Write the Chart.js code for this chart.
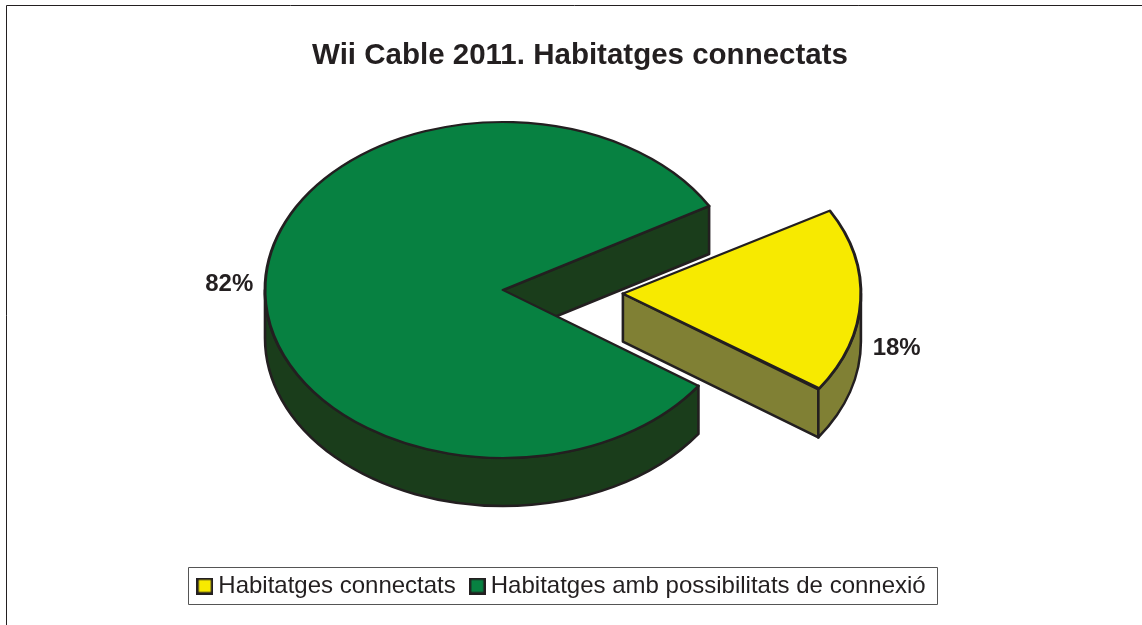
<!DOCTYPE html>
<html>
<head>
<meta charset="utf-8">
<style>
html,body{margin:0;padding:0;background:#fff;}
#wrap{position:relative;width:1142px;height:625px;}
canvas{display:block;}
</style>
<script src="https://cdn.jsdelivr.net/npm/chart.js@4/dist/chart.umd.min.js"></script>
</head>
<body>
<div id="wrap"><canvas id="c" width="1142" height="625"></canvas></div>
<script>
const titleText = 'Wii Cable 2011. Habitatges connectats';
const categories = ['Habitatges connectats', 'Habitatges amb possibilitats de connexió'];
const values = [18, 82];
const percentLabels = ['18%', '82%'];
const topColors = ['#f7ea00', '#078141'];
const wallColors = ['#808034', '#1a3d1b'];
const explode = [480, 0];

const INK = '#231f20';
const CX = 503, CY = 290, RADIUS = 238, SQUASH = 168 / 238, DEPTH = 48;

function tilt(ctx) {
  ctx.translate(0, CY);
  ctx.scale(1, SQUASH);
  ctx.translate(0, -CY);
}

function swatch(color) {
  const c = document.createElement('canvas');
  c.width = 17; c.height = 17;
  const g = c.getContext('2d');
  g.fillStyle = color;
  g.fillRect(0, 0, 17, 17);
  g.strokeStyle = INK;
  g.lineWidth = 2.5;
  g.strokeRect(1.25, 1.25, 14.5, 14.5);
  return c;
}

const pie3d = {
  id: 'pie3d',
  afterLayout(chart) {
    // place the pie, title and legend on their own centres
    const a = chart.chartArea;
    a.left = 0; a.right = CX * 2; a.top = 0; a.bottom = CY * 2;
    a.width = CX * 2; a.height = CY * 2;
    const t = chart.titleBlock;
    t.left += 15.5; t.right += 15.5;
  },
  beforeDraw(chart) {
    const ctx = chart.ctx;
    ctx.save();
    ctx.strokeStyle = INK;
    ctx.lineWidth = 1;
    ctx.beginPath();
    ctx.moveTo(6.5, 625);
    ctx.lineTo(6.5, 5.5);
    ctx.lineTo(1142, 5.5);
    ctx.stroke();
    ctx.fillStyle = '#fff';
    ctx.strokeStyle = '#555';
    ctx.lineWidth = 1;
    ctx.beginPath();
    ctx.rect(188.5, 567.5, 749, 37);
    ctx.fill();
    ctx.stroke();
    ctx.restore();
  },
  beforeDatasetsDraw(chart) {
    const ctx = chart.ctx;
    const arcs = chart.getDatasetMeta(0).data;
    const d = DEPTH / SQUASH;
    ctx.save();
    ctx.strokeStyle = INK;
    ctx.lineWidth = 2.6;
    ctx.lineJoin = 'round';
    arcs.forEach((arc, i) => {
      const s = arc.startAngle, e = arc.endAngle, r = RADIUS;
      const mid = (s + e) / 2, off = explode[i] / 4;
      // Chart.js enlarges an offset slice by this much; cancel it so top and rim coincide
      arc.outerRadius = RADIUS - off * (1 - Math.sin(Math.min(Math.PI, e - s)));
      const x = arc.x + Math.cos(mid) * off, y = arc.y + Math.sin(mid) * off;
      const paint = () => {
        ctx.fillStyle = wallColors[i];
        ctx.fill();
        ctx.stroke();
      };
      // cut face behind the trailing edge
      if (Math.cos(e) > 0) {
        ctx.save();
        tilt(ctx);
        ctx.beginPath();
        ctx.moveTo(x, y);
        ctx.lineTo(x + Math.cos(e) * r, y + Math.sin(e) * r);
        ctx.lineTo(x + Math.cos(e) * r, y + Math.sin(e) * r + d);
        ctx.lineTo(x, y + d);
        ctx.closePath();
        ctx.restore();
        paint();
      }
      // outer rim along the front half
      const a0 = Math.max(s, 0), a1 = Math.min(e, Math.PI);
      if (a1 > a0) {
        ctx.save();
        tilt(ctx);
        ctx.beginPath();
        ctx.arc(x, y, r, a0, a1);
        ctx.arc(x, y + d, r, a1, a0, true);
        ctx.closePath();
        ctx.restore();
        paint();
      }
    });
    ctx.restore();
    ctx.save();
    tilt(ctx);
  },
  afterDatasetsDraw(chart) {
    const ctx = chart.ctx;
    ctx.restore();
    const arcs = chart.getDatasetMeta(0).data;
    ctx.save();
    ctx.font = 'bold 24px "Liberation Sans", Arial, sans-serif';
    ctx.fillStyle = INK;
    ctx.textAlign = 'center';
    ctx.textBaseline = 'middle';
    arcs.forEach((arc, i) => {
      const mid = (arc.startAngle + arc.endAngle) / 2;
      const off = explode[i] / 4, rr = RADIUS + 36;
      const x = arc.x + Math.cos(mid) * (off + rr);
      const y = CY + 2 + Math.sin(mid) * (off + rr) * SQUASH + (Math.cos(mid) > 0 ? DEPTH - 3 : 0);
      ctx.fillText(percentLabels[i], x, y);
    });
    ctx.restore();
  }
};

new Chart(document.getElementById('c'), {
  type: 'pie',
  plugins: [pie3d],
  data: {
    labels: categories,
    datasets: [{
      data: values,
      backgroundColor: topColors,
      borderColor: INK,
      borderWidth: 3,
      borderJoinStyle: 'round',
      offset: explode,
      clip: false
    }]
  },
  options: {
    responsive: false,
    animation: false,
    events: [],
    rotation: 60,
    radius: RADIUS,
    layout: { padding: { left: 2, right: 15, top: 0, bottom: 17 } },
    plugins: {
      tooltip: { enabled: false },
      title: {
        display: true,
        text: titleText,
        color: INK,
        font: { family: '"Liberation Sans", Arial, sans-serif', size: 29.5, weight: 'bold' },
        padding: { top: 38, bottom: 10 }
      },
      legend: {
        display: true,
        position: 'bottom',
        labels: {
          color: INK,
          usePointStyle: true,
          pointStyleWidth: 3,
          boxHeight: 14,
          padding: 20,
          font: { family: '"Liberation Sans", Arial, sans-serif', size: 24 },
          generateLabels(chart) {
            return categories.map((text, i) => ({
              text,
              index: i,
              fontColor: INK,
              hidden: false,
              pointStyle: swatch(topColors[i])
            }));
          }
        }
      }
    }
  }
});
</script>
</body>
</html>
